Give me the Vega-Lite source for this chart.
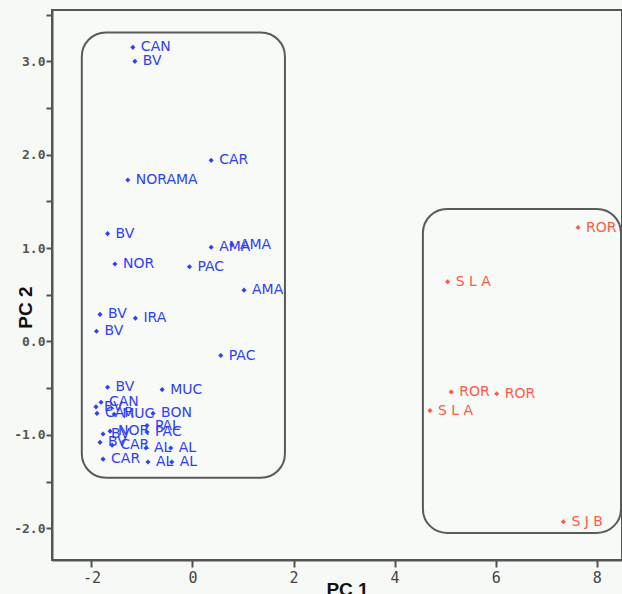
{
  "$schema": "https://vega.github.io/schema/vega-lite/v6.json",
  "width": 570,
  "height": 550,
  "autosize": {"type": "none"},
  "padding": {"left": 52, "top": 10, "right": 0, "bottom": 34},
  "background": "#f6f9f6",
  "config": {
    "view": {"stroke": "#555555", "strokeWidth": 2, "fill": "#f7faf7"}
  },
  "datasets": {
    "boxes": [
      {"x1": -2.19, "x2": 1.83, "y1": 3.31, "y2": -1.46},
      {"x1": 4.56, "x2": 8.48, "y1": 1.42, "y2": -2.05}
    ],
    "pts": [
      {"pc1": -1.18, "pc2": 3.15, "lab": "CAN", "g": "blue"},
      {"pc1": -1.14, "pc2": 3.0, "lab": "BV", "g": "blue"},
      {"pc1": 0.37, "pc2": 1.94, "lab": "CAR", "g": "blue"},
      {"pc1": -1.28, "pc2": 1.73, "lab": "NORAMA", "g": "blue"},
      {"pc1": -1.68, "pc2": 1.155, "lab": "BV", "g": "blue"},
      {"pc1": 0.37, "pc2": 1.01, "lab": "AMA", "g": "blue"},
      {"pc1": 0.78, "pc2": 1.035, "lab": "AMA", "g": "blue"},
      {"pc1": -1.535, "pc2": 0.83, "lab": "NOR", "g": "blue"},
      {"pc1": -0.06, "pc2": 0.8, "lab": "PAC", "g": "blue"},
      {"pc1": 1.02, "pc2": 0.55, "lab": "AMA", "g": "blue"},
      {"pc1": -1.83, "pc2": 0.29, "lab": "BV", "g": "blue"},
      {"pc1": -1.13, "pc2": 0.25, "lab": "IRA", "g": "blue"},
      {"pc1": -1.9, "pc2": 0.11, "lab": "BV", "g": "blue"},
      {"pc1": 0.56, "pc2": -0.15, "lab": "PAC", "g": "blue"},
      {"pc1": -1.68, "pc2": -0.49, "lab": "BV", "g": "blue"},
      {"pc1": -0.6, "pc2": -0.515, "lab": "MUC", "g": "blue"},
      {"pc1": -1.91, "pc2": -0.70, "lab": "BV", "g": "blue"},
      {"pc1": -1.81, "pc2": -0.65, "lab": "CAN", "g": "blue"},
      {"pc1": -1.89, "pc2": -0.77, "lab": "CAR", "g": "blue"},
      {"pc1": -1.55, "pc2": -0.78, "lab": "MUC", "g": "blue"},
      {"pc1": -0.78, "pc2": -0.77, "lab": "BON", "g": "blue"},
      {"pc1": -0.90, "pc2": -0.90, "lab": "PAL", "g": "blue"},
      {"pc1": -1.77, "pc2": -0.99, "lab": "BV", "g": "blue"},
      {"pc1": -1.63, "pc2": -0.96, "lab": "NOR", "g": "blue"},
      {"pc1": -0.90, "pc2": -0.97, "lab": "PAC", "g": "blue"},
      {"pc1": -1.83, "pc2": -1.08, "lab": "BV", "g": "blue"},
      {"pc1": -1.59, "pc2": -1.11, "lab": "CAR", "g": "blue"},
      {"pc1": -0.92, "pc2": -1.14, "lab": "AL", "g": "blue"},
      {"pc1": -0.43, "pc2": -1.14, "lab": "AL", "g": "blue"},
      {"pc1": -1.77, "pc2": -1.26, "lab": "CAR", "g": "blue"},
      {"pc1": -0.88, "pc2": -1.29, "lab": "AL", "g": "blue"},
      {"pc1": -0.41, "pc2": -1.29, "lab": "AL", "g": "blue"},
      {"pc1": 7.63, "pc2": 1.22, "lab": "ROR", "g": "red"},
      {"pc1": 5.05, "pc2": 0.64, "lab": "S L A", "g": "red"},
      {"pc1": 5.12, "pc2": -0.54, "lab": "ROR", "g": "red"},
      {"pc1": 6.02, "pc2": -0.56, "lab": "ROR", "g": "red"},
      {"pc1": 4.70, "pc2": -0.74, "lab": "S L A", "g": "red"},
      {"pc1": 7.34, "pc2": -1.93, "lab": "S J B", "g": "red"}
    ]
  },
  "layer": [
    {
      "data": {"name": "boxes"},
      "mark": {"type": "rect", "fill": null, "fillOpacity": 0, "stroke": "#5a5a5a", "strokeWidth": 2, "cornerRadius": 24},
      "encoding": {
        "x": {"field": "x1", "type": "quantitative", "scale": {"domain": [-2.78, 8.5], "nice": false, "zero": false},
          "axis": {
            "values": [-2, 0, 2, 4, 6, 8],
            "labelExpr": "replace(datum.label, '−', '-')",
            "labelFont": "DejaVu Sans Mono", "labelFontSize": 15, "labelColor": "#444444", "labelPadding": 3,
            "tickColor": "#555555", "tickWidth": 2, "tickSize": 7,
            "domainColor": "#555555", "domainWidth": 2, "grid": false, "labelFlush": false, "labelOverlap": false,
            "title": "PC 1", "titleFont": "Liberation Sans", "titleFontSize": 19, "titleFontWeight": "bold", "titleColor": "#111111",
            "titleX": 295, "titleY": 35, "titleBaseline": "alphabetic", "titleAnchor": "middle"
          }},
        "x2": {"field": "x2"},
        "y": {"field": "y1", "type": "quantitative", "scale": {"domain": [-2.34, 3.55], "nice": false, "zero": false},
          "axis": {
            "values": [-2, -1.5, -1, -0.5, 0, 0.5, 1, 1.5, 2, 2.5, 3, 3.5],
            "labelExpr": "datum.value % 1 === 0 ? (datum.value < 0 ? '-' + format(-datum.value, '.1f') : format(datum.value, '.1f')) : ''",
            "labelFont": "DejaVu Sans Mono", "labelFontSize": 13, "labelFontWeight": "bold", "labelColor": "#555555", "labelPadding": 1,
            "tickColor": "#555555", "tickWidth": 2, "tickSize": 6,
            "domainColor": "#555555", "domainWidth": 2, "grid": false, "labelFlush": false, "labelOverlap": false,
            "title": "PC 2", "titleFont": "Liberation Sans", "titleFontSize": 19, "titleFontWeight": "bold", "titleColor": "#111111",
            "titleX": -27, "titleY": 297, "titleAngle": -90, "titleAlign": "center", "titleBaseline": "middle"
          }},
        "y2": {"field": "y2"}
      }
    },
    {
      "data": {"name": "pts"},
      "mark": {"type": "point", "shape": "diamond", "filled": true, "size": 26, "opacity": 1},
      "encoding": {
        "x": {"field": "pc1", "type": "quantitative"},
        "y": {"field": "pc2", "type": "quantitative"},
        "color": {"field": "g", "type": "nominal", "scale": {"domain": ["blue", "red"], "range": ["#3040f5", "#ff5a45"]}, "legend": null}
      }
    },
    {
      "data": {"name": "pts"},
      "mark": {"type": "text", "align": "left", "baseline": "middle", "dx": 8, "font": "DejaVu Sans", "fontSize": 14},
      "encoding": {
        "x": {"field": "pc1", "type": "quantitative"},
        "y": {"field": "pc2", "type": "quantitative"},
        "text": {"field": "lab"},
        "color": {"field": "g", "type": "nominal", "scale": {"domain": ["blue", "red"], "range": ["#3040f5", "#ff5a45"]}, "legend": null}
      }
    }
  ]
}
